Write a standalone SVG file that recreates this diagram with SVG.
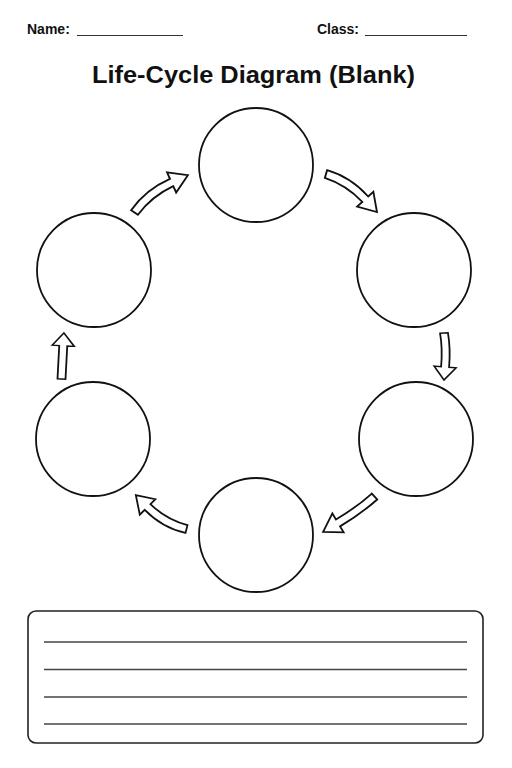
<svg xmlns="http://www.w3.org/2000/svg" width="512" height="768" viewBox="0 0 512 768">
<defs>
<style>
.t{font-family:"Liberation Sans","DejaVu Sans",sans-serif;font-weight:bold;fill:#111}
.c{fill:#fff;stroke:#111;stroke-width:1.8}
.a{fill:#fff;stroke:#111;stroke-width:1.8;stroke-linejoin:miter;vector-effect:non-scaling-stroke}
.u{stroke:#333;stroke-width:1.2}
.l{stroke:#444;stroke-width:1.3}
</style>
<path id="arcA" d="M 2.06,15.43 L -2.06,8.57 Q 18.5,-4.3 44,-4 L 44,-11 L 61,0 L 44,11 L 44,4 Q 21.5,4.3 2.06,15.43 Z"/>
<path id="arcB" d="M 0.78,7.92 L -0.78,0.08 Q 20,-4 44,-4 L 44,-11 L 61,0 L 44,11 L 44,4 Q 20,4 0.78,7.92 Z"/>
<path id="arcC" d="M 0,-4 L 44,-4 L 44,-11 L 61,0 L 44,11 L 44,4 L 0,4 Z"/>
</defs>
<rect width="512" height="768" fill="#fff"/>
<g id="header">
<text class="t" x="27" y="34" font-size="14">Name:</text>
<line class="u" x1="77" y1="35.5" x2="183" y2="35.5"/>
<text class="t" x="317" y="34" font-size="14">Class:</text>
<line class="u" x1="365" y1="35.5" x2="467" y2="35.5"/>
</g>
<text id="title" class="t" x="92" y="83" font-size="24" textLength="323" lengthAdjust="spacingAndGlyphs">Life-Cycle Diagram (Blank)</text>
<g id="connectors">
<use href="#arcA" class="a" transform="translate(134.5,212.5) rotate(-24.4) scale(1.05,1) translate(0,-12)"/>
<use href="#arcA" class="a" transform="translate(326,174) rotate(47.6) scale(1.024,1) translate(0,-12)"/>
<use href="#arcB" class="a" transform="translate(444,333) rotate(94.9) scale(0.767,1) translate(0,-4)"/>
<use href="#arcB" class="a" transform="translate(374.5,496.5) rotate(149.2) scale(1.02,1) translate(0,-4)"/>
<use href="#arcA" class="a" transform="translate(186.5,529) rotate(225.1) scale(0.979,1) translate(0,-12)"/>
<use href="#arcC" class="a" transform="translate(61.5,379) rotate(-87) scale(0.756,1)"/>
</g>
<g id="stage1"><circle class="c" cx="256" cy="165" r="57"/></g>
<g id="stage2"><circle class="c" cx="414" cy="270" r="57"/></g>
<g id="stage3"><circle class="c" cx="416" cy="439" r="57"/></g>
<g id="stage4"><circle class="c" cx="256" cy="535" r="57"/></g>
<g id="stage5"><circle class="c" cx="93" cy="439" r="57"/></g>
<g id="stage6"><circle class="c" cx="94" cy="270" r="57"/></g>
<g id="notes">
<rect x="28" y="611" width="455" height="132" rx="8" fill="#fff" stroke="#222" stroke-width="1.6"/>
<line class="l" x1="44" y1="642" x2="467" y2="642"/>
<line class="l" x1="44" y1="669.5" x2="467" y2="669.5"/>
<line class="l" x1="44" y1="697" x2="467" y2="697"/>
<line class="l" x1="44" y1="724" x2="467" y2="724"/>
</g>
</svg>
